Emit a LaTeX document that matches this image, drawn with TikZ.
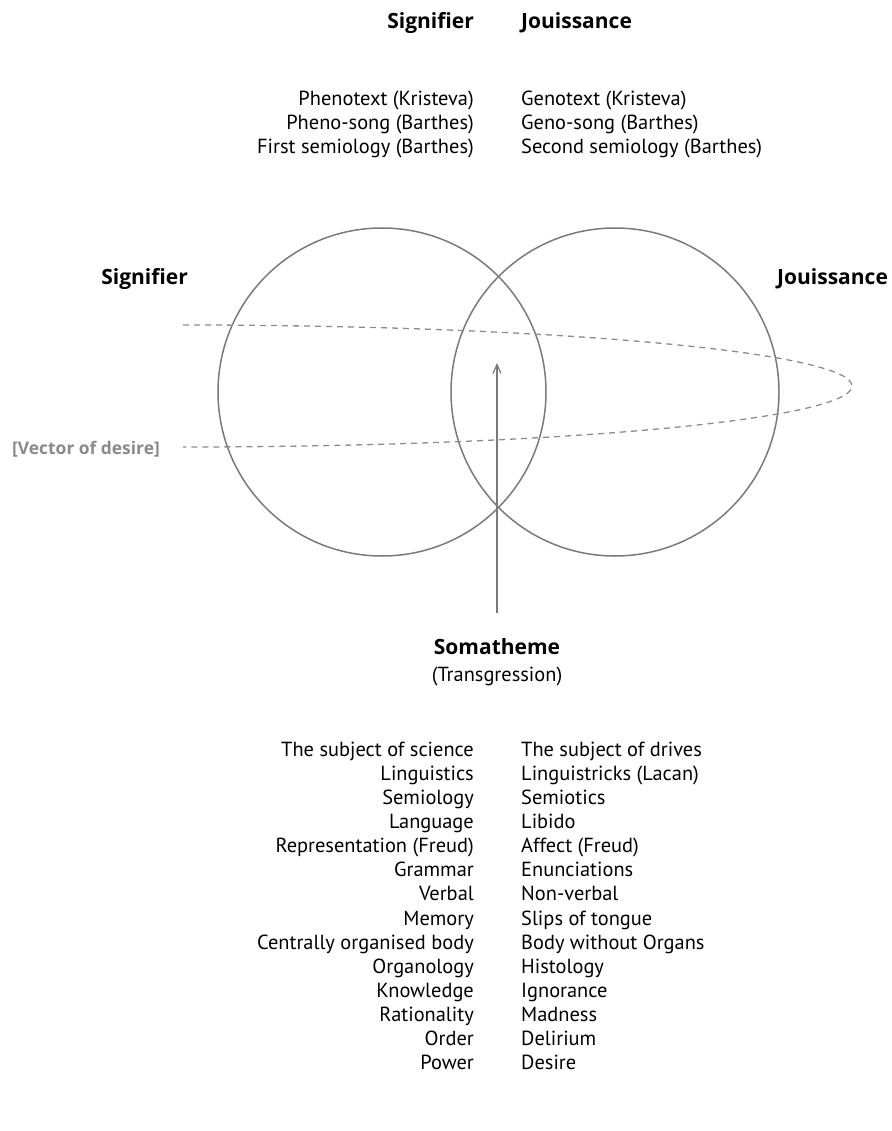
\documentclass[tikz,border=0pt]{standalone}
\usepackage{fontspec}
\setmainfont{PT Sans}
\newfontfamily\headfont{Open Sans}
\usetikzlibrary{arrows.meta}
\definecolor{linegray}{HTML}{7A7A7A}
\definecolor{dashgray}{HTML}{8C8C8C}
\definecolor{labelgray}{HTML}{8A8A8A}
\tikzset{
  txt/.style={inner sep=0pt, font=\fontsize{20.4}{24}\selectfont},
  hd/.style={inner sep=0pt, font=\headfont\fontsize{21}{24}\selectfont\bfseries},
  lcol/.style={txt, anchor=base east},
  rcol/.style={txt, anchor=base west},
  ring/.style={draw=linegray, line width=1.5pt},
  desire/.style={draw=dashgray, line width=1.3pt, dash pattern=on 6pt off 5pt},
  push/.style={draw=linegray, line width=1.4pt, -{Straight Barb[length=9pt,width=8pt,line width=1.2pt]}}
}
\begin{document}
\begin{tikzpicture}[x=1pt,y=-1pt]
\useasboundingbox (0,0) rectangle (891,1131);

% column headings
\node[hd, anchor=base east] (hsig) at (474,29) {Signifier};
\node[hd, anchor=base west] (hjou) at (521,29) {Jouissance};

% upper pairs
\foreach \l/\r [count=\i from 0] in {
  Phenotext (Kristeva)/Genotext (Kristeva),
  Pheno-song (Barthes)/Geno-song (Barthes),
  First semiology (Barthes)/Second semiology (Barthes)}{
  \node[lcol] (tl\i) at (474,{106+24*\i}) {\l};
  \node[rcol] (tr\i) at (521,{106+24*\i}) {\r};
}

% the two circles
\coordinate (cl) at (382,392);
\coordinate (cr) at (615,392);
\draw[ring] (cl) circle[radius=164pt];
\draw[ring] (cr) circle[radius=164pt];
\node[hd, anchor=base east] (lsig) at (188,285) {Signifier};
\node[hd, anchor=base west] (ljou) at (777,285) {Jouissance};

% vector of desire
\coordinate (dtop) at (183,325);
\draw[desire] (dtop) arc[start angle=90, end angle=-90, x radius=669pt, y radius=61pt];
\node[hd, anchor=base east, text=labelgray, font=\headfont\fontsize{17.4}{20}\selectfont\bfseries] (vec) at (160,454) {[Vector of desire]};

% somatheme
\node[hd, anchor=base] (soma) at (497,654) {Somatheme};
\node[txt, anchor=base] (trans) at (497,681) {(Transgression)};
\coordinate (tip) at (497,363);
\draw[push] (soma.north |- 0,613) -- (tip);

% lower pairs
\foreach \l/\r [count=\i from 0] in {
  The subject of science/The subject of drives,
  Linguistics/Linguistricks (Lacan),
  Semiology/Semiotics,
  Language/Libido,
  Representation (Freud)/Affect (Freud),
  Grammar/Enunciations,
  Verbal/Non-verbal,
  Memory/Slips of tongue,
  Centrally organised body/Body without Organs,
  Organology/Histology,
  Knowledge/Ignorance,
  Rationality/Madness,
  Order/Delirium,
  Power/Desire}{
  \node[lcol] (bl\i) at (474,{756+24.15*\i}) {\l};
  \node[rcol] (br\i) at (521,{756+24.15*\i}) {\r};
}
\end{tikzpicture}
\end{document}
